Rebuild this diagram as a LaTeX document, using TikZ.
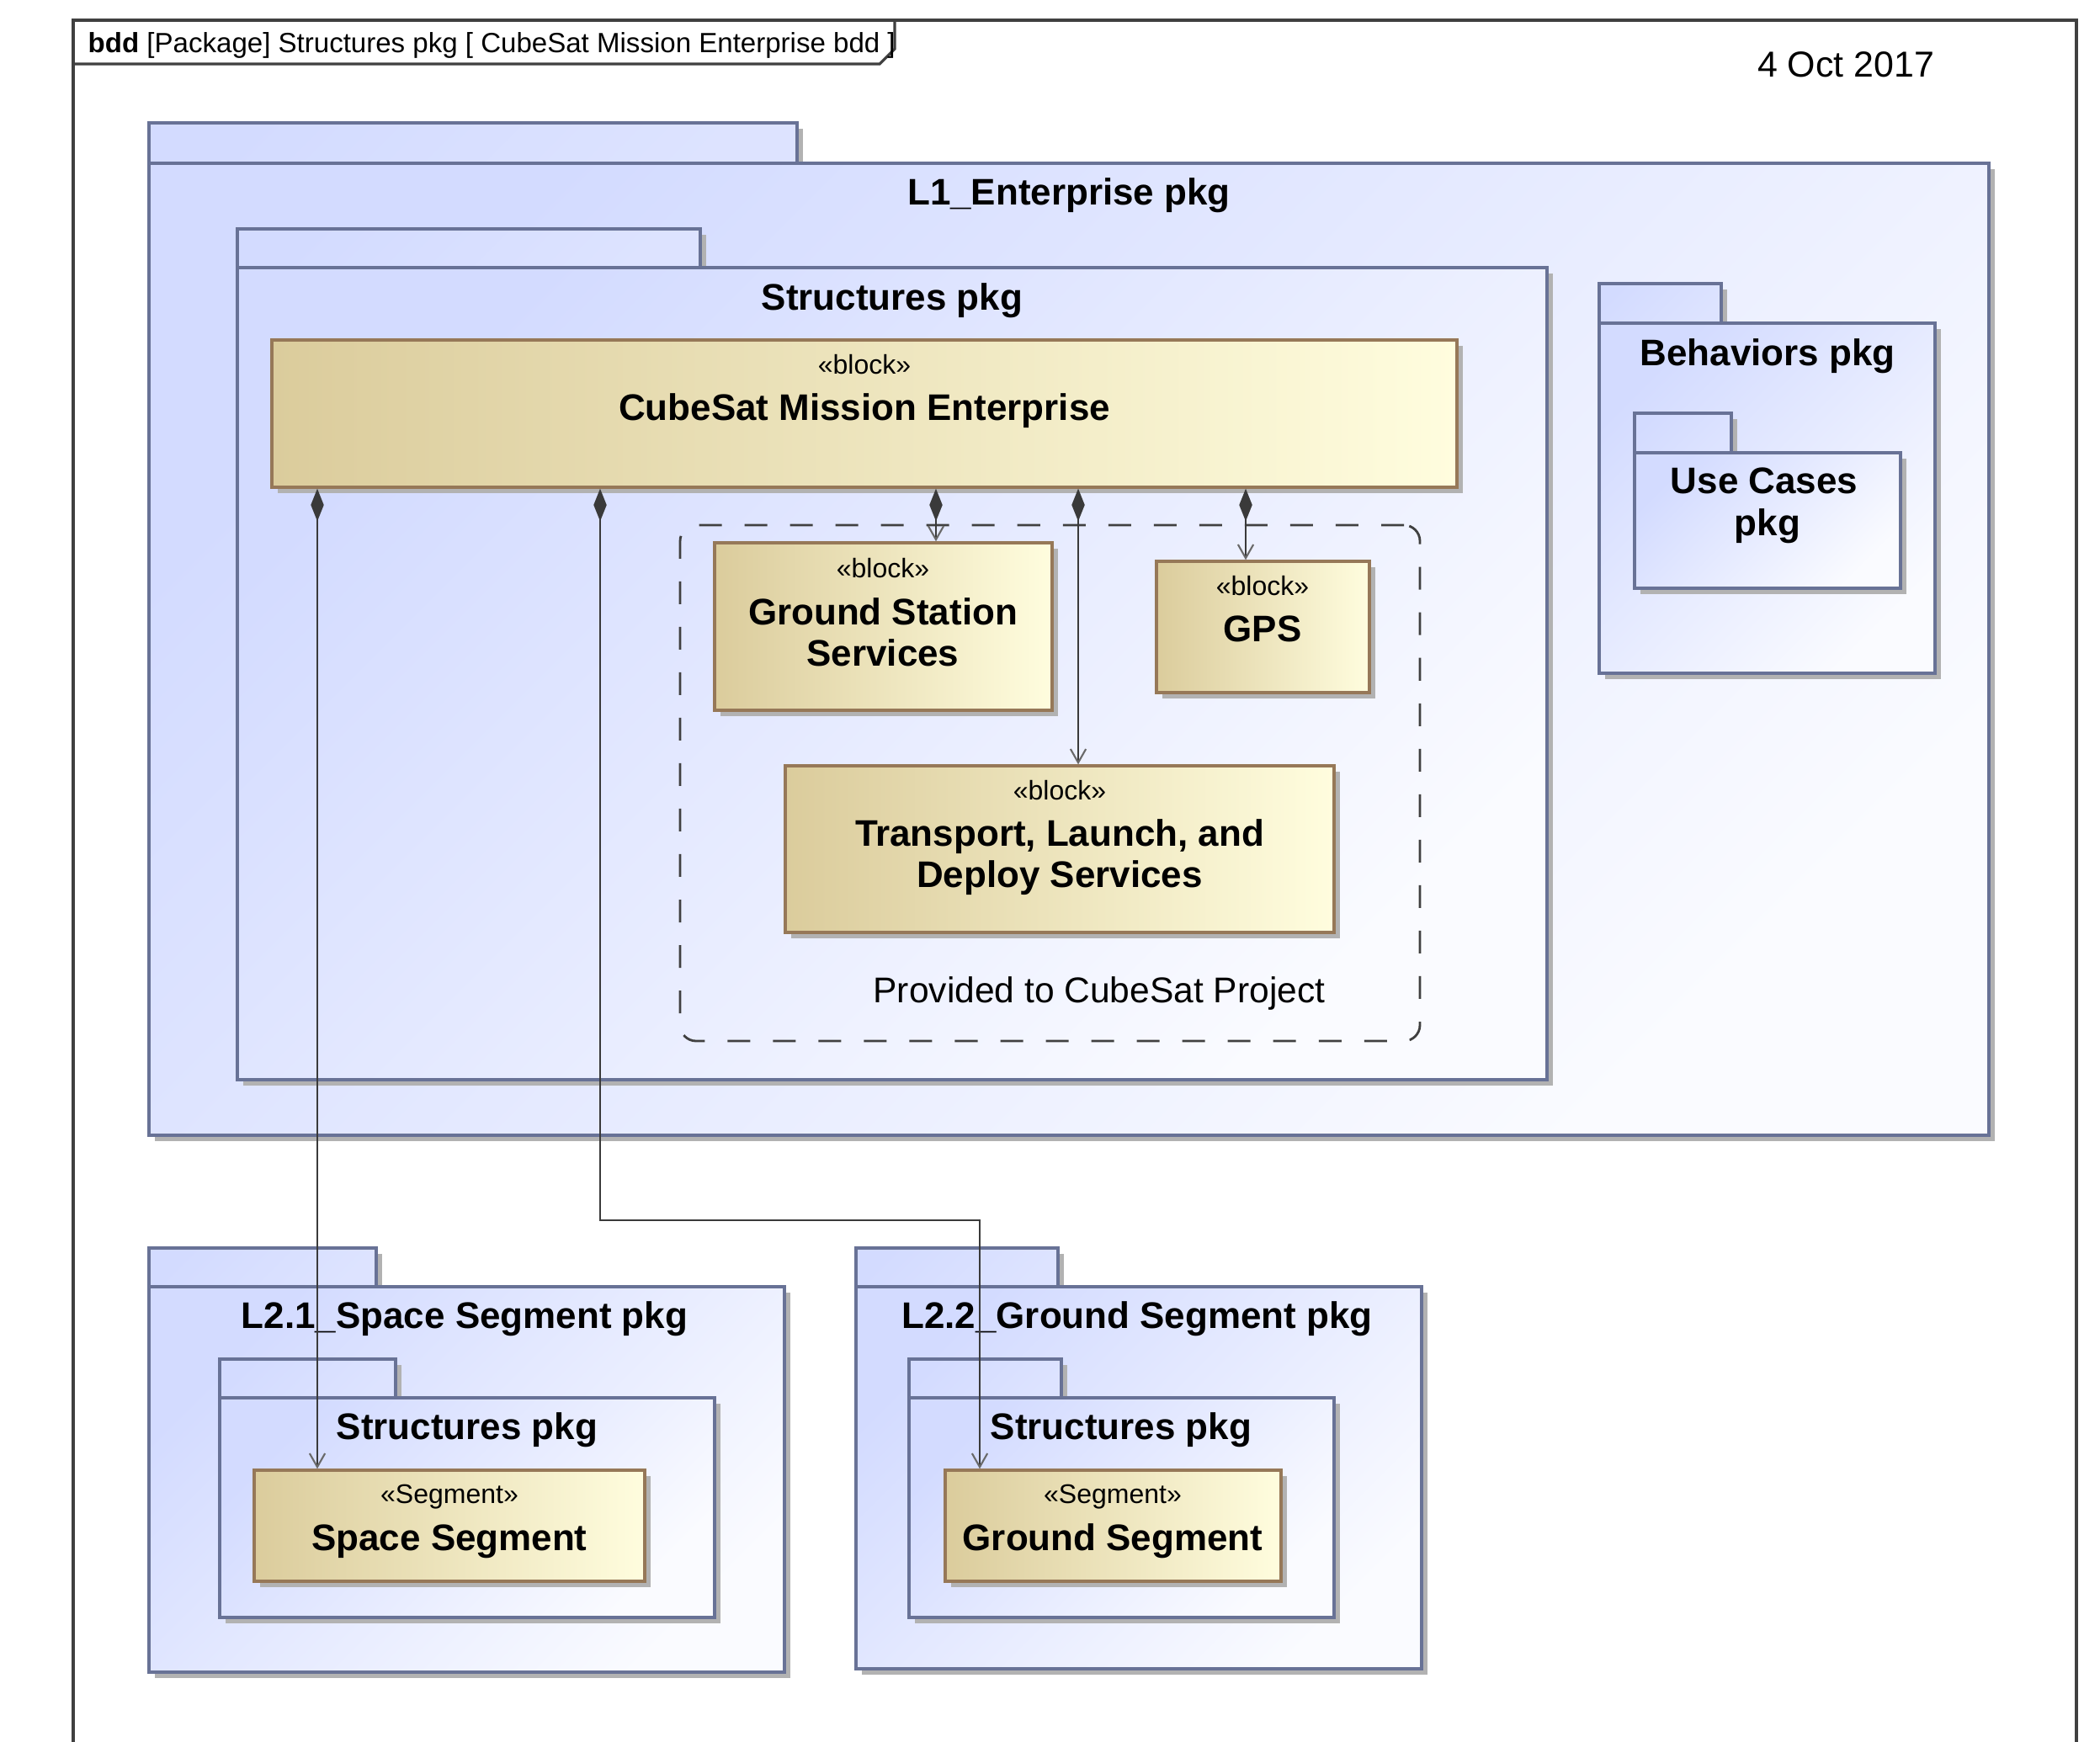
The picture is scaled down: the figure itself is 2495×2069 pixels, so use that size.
\documentclass[tikz,border=0pt]{standalone}
\usepackage{fontspec}
\setmainfont{Liberation Sans}
\usetikzlibrary{arrows.meta,fit,shadows}

\definecolor{pkgA}{RGB}{211,219,255}
\definecolor{pkgB}{RGB}{250,251,255}
\definecolor{pkgline}{RGB}{104,114,150}
\definecolor{blkA}{RGB}{219,204,156}
\definecolor{blkB}{RGB}{255,253,222}
\definecolor{blkline}{RGB}{150,120,88}
\definecolor{shadowgray}{RGB}{178,178,178}
\definecolor{frameline}{RGB}{64,64,64}
\definecolor{conn}{RGB}{58,58,58}
\definecolor{barb}{RGB}{105,105,105}

\tikzset{
  softshadow/.style={drop shadow={shadow xshift=0.07cm, shadow yshift=-0.07cm, fill=shadowgray, opacity=1}},
  pkgtab/.style={draw=pkgline, line width=0.95pt, inner sep=0pt, softshadow,
    top color=pkgA, bottom color=pkgA!75!pkgB, shading angle=45},
  pkgbody/.style={draw=pkgline, line width=0.95pt, inner sep=0pt, softshadow,
    top color=pkgA, bottom color=pkgB, shading angle=45},
  blockbox/.style={draw=blkline, line width=0.95pt, inner sep=0pt, softshadow,
    left color=blkA, right color=blkB},
  boldtext/.style={font=\fontsize{12.5pt}{14pt}\selectfont\bfseries, anchor=base, inner sep=0pt},
  stereotext/.style={font=\fontsize{9.1pt}{11pt}\selectfont, anchor=base, inner sep=0pt},
  plaintext/.style={font=\fontsize{12.1pt}{14pt}\selectfont, anchor=base, inner sep=0pt},
  framebox/.style={draw=frameline, line width=0.9pt},
  groupbox/.style={draw=frameline, line width=0.8pt, dash pattern=on 0.27cm off 0.27cm,
    rounded corners=0.19cm, inner sep=0pt},
  comp/.style={draw=conn, line width=0.65pt,
    {Diamond[length=11pt,width=4.4pt,fill=conn]}-{Straight Barb[length=4.6pt,width=5.2pt,color=barb,line width=0.6pt]}},
}

% package = tab node + body node
\newcommand\umlpackage[7]{%
  \node[pkgtab, fit={(#2,#3) (#4,#5)}] (#1tab) {};
  \node[pkgbody, fit={(#2,#5) (#6,#7)}] (#1) {};
}
% block = shaded box node
\newcommand\umlblock[5]{%
  \node[blockbox, fit={(#2,#3) (#4,#5)}] (#1) {};
}

\begin{document}
\begin{tikzpicture}[x=0.01cm, y=-0.01cm]
\useasboundingbox (0,0) rectangle (2495,2069);
\clip (0,0) rectangle (2495,2069);
\fill[white] (0,0) rectangle (2495,2069);

% diagram frame and its heading
\draw[framebox] (87,2100) |- (2467,24) -- (2467,2100);
\draw[framebox] (87,76) -- (1045,76) -- (1063,58) -- (1063,24);
\node[anchor=base west, inner sep=0pt, font=\fontsize{9.4pt}{11pt}\selectfont] (heading) at (104,62)
  {\textbf{bdd} [Package] Structures pkg [ CubeSat Mission Enterprise bdd ]};
\node[plaintext, font=\fontsize{12.2pt}{14pt}\selectfont] (date) at (2193,91) {4 Oct 2017};

% L1 enterprise package
\umlpackage{lone}{177}{146}{947}{194}{2363}{1349}
\node[boldtext] (lonetitle) at (1270,243) {L1\_Enterprise pkg};

% structures package inside L1
\umlpackage{strone}{282}{272}{832}{318}{1838}{1283}
\node[boldtext] (stronetitle) at (1060,368) {Structures pkg};

\umlblock{cme}{323}{404}{1731}{579}
\node[stereotext] (cmest) at (1027,444) {«block»};
\node[boldtext] (cmename) at (1027,499) {CubeSat Mission Enterprise};

% group of provided services
\node[groupbox, fit={(808,624) (1687,1237)}] (prov) {};
\node[plaintext] (provlabel) at (1306,1191) {Provided to CubeSat Project};

\umlblock{gss}{849}{645}{1250}{844}
\node[stereotext] (gssst) at (1049,686) {«block»};
\node[boldtext] (gssnamea) at (1049,742) {Ground Station};
\node[boldtext] (gssnameb) at (1049,791) {Services};

\umlblock{gps}{1374}{667}{1627}{823}
\node[stereotext] (gpsst) at (1500,707) {«block»};
\node[boldtext] (gpsname) at (1500,762) {GPS};

\umlblock{tld}{933}{910}{1585}{1108}
\node[stereotext] (tldst) at (1259,950) {«block»};
\node[boldtext] (tldnamea) at (1259,1005) {Transport, Launch, and};
\node[boldtext] (tldnameb) at (1259,1054) {Deploy Services};

% behaviors package
\umlpackage{beh}{1900}{337}{2045}{384}{2299}{800}
\node[boldtext] (behtitle) at (2100,434) {Behaviors pkg};
\umlpackage{uc}{1942}{491}{2057}{538}{2258}{699}
\node[boldtext] (uctitlea) at (2096,586) {Use Cases};
\node[boldtext] (uctitleb) at (2100,636) {pkg};

% L2.1 space segment package
\umlpackage{ltwoa}{177}{1483}{447}{1529}{932}{1987}
\node[boldtext] (ltwoatitle) at (552,1578) {L2.1\_Space Segment pkg};
\umlpackage{strtwoa}{261}{1615}{470}{1661}{849}{1922}
\node[boldtext] (strtwoatitle) at (555,1710) {Structures pkg};
\umlblock{ss}{302}{1747}{766}{1879}
\node[stereotext] (ssst) at (534,1786) {«Segment»};
\node[boldtext] (ssname) at (534,1842) {Space Segment};

% L2.2 ground segment package
\umlpackage{ltwob}{1017}{1483}{1257}{1529}{1689}{1983}
\node[boldtext] (ltwobtitle) at (1351,1578) {L2.2\_Ground Segment pkg};
\umlpackage{strtwob}{1080}{1615}{1261}{1661}{1585}{1922}
\node[boldtext] (strtwobtitle) at (1332,1710) {Structures pkg};
\umlblock{gs}{1123}{1747}{1522}{1879}
\node[stereotext] (gsst) at (1322,1786) {«Segment»};
\node[boldtext] (gsname) at (1322,1842) {Ground Segment};

% composition connectors
\coordinate (xss) at (377,0);
\coordinate (xgs) at (713,0);
\coordinate (xgss) at (1112,0);
\coordinate (xtld) at (1281,0);
\coordinate (xgps) at (1480,0);
\coordinate (bend) at (1164,1450);

\draw[comp] (cme.south -| xss) -- (ss.north -| xss);
\draw[comp] (cme.south -| xgs) |- (bend) -- (gs.north -| bend);
\draw[comp] (cme.south -| xgss) -- (gss.north -| xgss);
\draw[comp] (cme.south -| xtld) -- (tld.north -| xtld);
\draw[comp] (cme.south -| xgps) -- (gps.north -| xgps);
\end{tikzpicture}
\end{document}
